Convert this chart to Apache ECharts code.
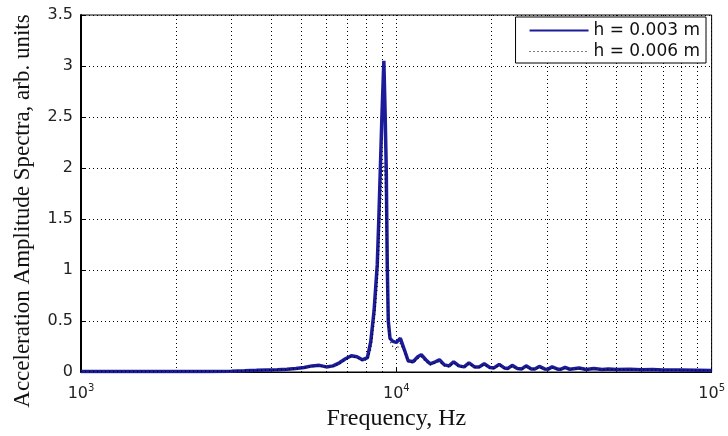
<!DOCTYPE html>
<html>
<head>
<meta charset="utf-8">
<script src="https://cdn.jsdelivr.net/npm/echarts@6/dist/echarts.min.js"></script>
<style>html,body{margin:0;padding:0;background:#fff;}#c{width:728px;height:436px;}</style>
</head>
<body>
<div id="c"></div>
<script>
var freqHz = [1000,1500,2000,2500,3000,3300,3600,3900,4200,4500,
  4800,5100,5400,5700,6000,6300,6600,6900,7200,7500,
  7800,8100,8300,8500,8700,8800,8900,9000,9130,9220,
  9290,9360,9430,9550,9750,10000,10300,10600,10900,11300,
  11700,12000,12400,12800,13300,13700,14200,14700,15200,15800,
  16400,17000,17700,18300,19000,19800,20400,21200,22000,22600,
  23300,24200,25000,25800,26800,27500,28400,29500,30300,31200,
  32500,33300,34300,35500,37000,38000,40000,42300,45000,47000,
  50000,55000,60000,65000,70000,80000,90000,100000];
var h003 = [0.004,0.004,0.005,0.006,0.008,0.012,0.016,0.02,0.022,0.028,
  0.035,0.045,0.06,0.065,0.05,0.06,0.09,0.13,0.16,0.15,
  0.12,0.14,0.3,0.6,1.05,1.5,2.0,2.5,3.05,2.5,
  2.0,1.05,0.5,0.33,0.3,0.29,0.33,0.22,0.11,0.1,
  0.15,0.17,0.12,0.08,0.1,0.12,0.07,0.06,0.1,0.06,
  0.05,0.09,0.05,0.05,0.08,0.045,0.04,0.075,0.04,0.035,
  0.065,0.035,0.03,0.06,0.03,0.03,0.055,0.03,0.028,0.05,
  0.028,0.028,0.045,0.027,0.035,0.04,0.025,0.035,0.025,0.03,
  0.025,0.028,0.022,0.025,0.02,0.02,0.018,0.015];
var h006 = [0.004,0.004,0.005,0.006,0.008,0.011,0.015,0.018,0.02,0.025,
  0.032,0.04,0.055,0.06,0.048,0.055,0.08,0.12,0.15,0.14,
  0.11,0.12,0.22,0.48,0.85,1.2,1.6,1.9,2.05,1.9,
  1.5,0.95,0.45,0.3,0.25,0.22,0.28,0.2,0.1,0.09,
  0.13,0.15,0.1,0.07,0.09,0.1,0.06,0.05,0.09,0.05,
  0.045,0.08,0.045,0.045,0.07,0.04,0.035,0.065,0.035,0.03,
  0.055,0.03,0.028,0.05,0.028,0.028,0.045,0.028,0.025,0.042,
  0.025,0.025,0.038,0.025,0.03,0.035,0.022,0.03,0.022,0.026,
  0.022,0.024,0.02,0.022,0.018,0.018,0.016,0.014];
var minorGridHz = [2000,3000,4000,5000,6000,7000,8000,9000,
  20000,30000,40000,50000,60000,70000,80000,90000];
var xTickExponents = {1000:'3', 10000:'4', 100000:'5'};
var seriesNames = ['h = 0.003 m', 'h = 0.006 m'];

function pairs(xs, ys){ return xs.map(function(x,i){ return [x, ys[i]]; }); }

var chart = echarts.init(document.getElementById('c'), null, {renderer:'canvas'});
var dotted = {type:[1,3], color:'#000', width:1};
var sans = 'DejaVu Sans, Liberation Sans, Arial';
var clear = 'rgba(0,0,0,0)';
chart.setOption({
  backgroundColor:'#fff',
  animation:false,
  grid:{left:81, right:16, top:15, bottom:56, show:true, borderColor:'#000', borderWidth:1, backgroundColor:'#fff'},
  legend:{
    z:20,
    data:[
      {name:seriesNames[0], lineStyle:{width:2}},
      {name:seriesNames[1], lineStyle:{width:1}}
    ],
    orient:'vertical', right:22, top:17,
    backgroundColor:'#fff', borderColor:'#000', borderWidth:1,
    padding:[5,6,3,13], itemGap:4, itemWidth:59, itemHeight:14,
    itemStyle:{color:clear, borderColor:clear, borderWidth:0, opacity:0},
    textStyle:{fontFamily:sans, fontSize:17, color:'#111', lineHeight:15}
  },
  xAxis:{
    type:'log', logBase:10, min:1000, max:100000,
    name:'Frequency, Hz', nameLocation:'middle', nameGap:35,
    nameTextStyle:{fontFamily:'Liberation Serif, Times New Roman', fontSize:24, color:'#111'},
    axisLine:{show:true, lineStyle:{color:'#000', width:1}},
    axisTick:{show:true, inside:true, length:5, lineStyle:{color:'#000'}},
    axisLabel:{
      margin:7,
      formatter:function(v){ var e = xTickExponents[Math.round(v)]; return '{b|10}{s|' + e + '}'; },
      rich:{
        b:{fontFamily:sans, fontSize:16, color:'#222', padding:[7,0,0,0]},
        s:{fontFamily:sans, fontSize:10, color:'#222', padding:[0,0,4,0]}
      }
    },
    splitLine:{show:true, lineStyle:dotted},
    minorTick:{show:false}
  },
  yAxis:{
    type:'value', min:0, max:3.5, interval:0.5,
    axisLine:{show:true, lineStyle:{color:'#000', width:2}},
    axisTick:{show:true, inside:true, length:5, lineStyle:{color:'#000'}},
    axisLabel:{margin:8, fontFamily:sans, fontSize:16, color:'#222',
      formatter:function(v){ return String(v); }},
    splitLine:{show:true, lineStyle:dotted}
  },
  graphic:[{
    type:'text', x:23, y:211, rotation:Math.PI/2,
    style:{text:'Acceleration Amplitude Spectra, arb. units', fill:'#111',
      font:'23px "Liberation Serif", "Times New Roman", serif', textAlign:'center', textVerticalAlign:'middle'}
  }],
  series:[
    {
      name:'minor-grid', type:'line', data:[], z:1, silent:true,
      markLine:{z:1, silent:true, symbol:'none', label:{show:false}, animation:false,
        lineStyle:dotted, emphasis:{disabled:true},
        data:minorGridHz.map(function(f){ return {xAxis:f}; })}
    },
    {
      name:seriesNames[0], type:'line', data:pairs(freqHz, h003), z:3,
      symbol:'none', smooth:false,
      lineStyle:{color:'#1c1c9a', width:3.5}, itemStyle:{color:'#1c1c9a'}
    },
    {
      name:seriesNames[1], type:'line', data:pairs(freqHz, h006), z:4,
      symbol:'none', smooth:false,
      lineStyle:{color:'#000', width:1.2, type:[1,3]}, itemStyle:{color:'#000'}
    }
  ]
});
</script>
</body>
</html>
